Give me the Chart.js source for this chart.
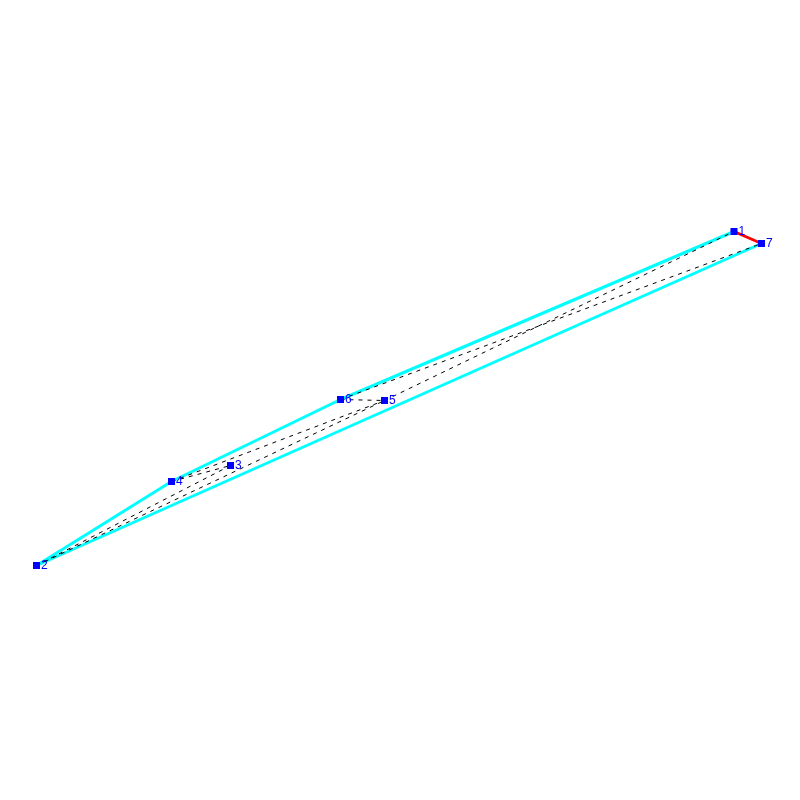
<!DOCTYPE html>
<html><head><meta charset="utf-8">
<style>html,body{margin:0;padding:0;background:#fff}canvas{display:block}</style>
<script src="https://cdn.jsdelivr.net/npm/chart.js@4"></script></head>
<body><canvas id="c" width="800" height="800"></canvas>
<script>
const nodeLabels = ["1","2","3","4","5","6","7"];
const nodeX = [734, 36.5, 230.5, 171.5, 384.5, 340.5, 761.5];
const nodeY = [231.5, 565.5, 465.5, 481.5, 400.5, 399.5, 243.5];
const hullEdges = [[7,2],[2,4],[4,6],[6,1]];
const redEdges = [[1,7]];
const dashedEdges = [[6,5],[6,7],[5,1],[4,3],[4,5],[3,2],[2,5]];
const pt = n => ({x: nodeX[n-1], y: nodeY[n-1]});
const edgeSet = (edges, color, width, dash) => edges.map(([a,b]) => ({
  type:'line', data:[pt(a),pt(b)], borderColor:color, borderWidth:width, borderDash:dash,
  pointRadius:0, fill:false, tension:0
}));
const nodeLabelsPlugin = {
  id:'nodeLabels',
  afterDatasetsDraw(chart){
    const {ctx, scales:{x,y}} = chart;
    ctx.save();
    ctx.fillStyle='#0000ff';
    ctx.font='12px "Liberation Sans"';
    ctx.textAlign='left'; ctx.textBaseline='middle';
    nodeLabels.forEach((t,i)=>ctx.fillText(t, x.getPixelForValue(nodeX[i])+4.5, y.getPixelForValue(nodeY[i])+0.5));
    ctx.restore();
  }
};
new Chart(document.getElementById('c'),{
  type:'scatter',
  data:{datasets:[
    {type:'scatter',data:nodeX.map((v,i)=>({x:v,y:nodeY[i]})),pointStyle:'rect',pointRadius:4.95,
     pointBackgroundColor:'#0000ff',pointBorderColor:'#0000ff',pointBorderWidth:0,showLine:false},
    ...edgeSet(dashedEdges,'#000000',1,[4,5]),
    ...edgeSet(redEdges,'#ff0000',3,[]),
    ...edgeSet(hullEdges,'#00ffff',3,[])
  ]},
  options:{
    responsive:false,animation:false,
    layout:{padding:0,autoPadding:false},
    plugins:{legend:{display:false},tooltip:{enabled:false},title:{display:false}},
    scales:{
      x:{type:'linear',min:0,max:800,display:false},
      y:{type:'linear',min:0,max:800,reverse:true,display:false}
    }
  },
  plugins:[nodeLabelsPlugin]
});
</script></body></html>
